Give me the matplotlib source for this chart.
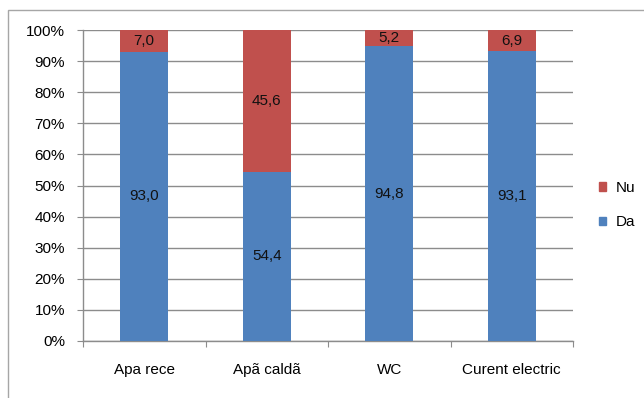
#!/usr/bin/env python
# -*- coding: utf-8 -*-

"""
100% stacked columns: share of Da / Nu answers per utility
"""

import matplotlib
matplotlib.use('Agg')
import matplotlib.pyplot as plt
from matplotlib.patches import Rectangle, Patch
import numpy as np


categories = ['Apa rece', 'Apã caldã', 'WC', 'Curent electric']
da_values = [93.0, 54.4, 94.8, 93.1]
nu_values = [7.0, 45.6, 5.2, 6.9]

BLUE = '#4F81BD'
RED = '#C0504D'
GRID = '#8C8C8C'


def main():
    plt.rcParams['font.family'] = ['Liberation Sans', 'DejaVu Sans']
    plt.rcParams['font.size'] = 11

    W, H = 644, 398
    fig = plt.figure(figsize=(W / 100, H / 100), dpi=100)
    # plot area in pixel terms: x 83..573, y 30..341
    ax = fig.add_axes([83 / W, (H - 341) / H, 490 / W, 311 / H])

    # chart frame (left and top edges show, the rest runs off the canvas)
    fig.patches.append(Rectangle((8 / W, -0.1), 2, (H - 10) / H + 0.1,
                                 transform=fig.transFigure, fill=False,
                                 edgecolor='#A6A6A6', lw=1, zorder=0))

    da = np.array(da_values)
    nu = np.array(nu_values)
    total = da + nu
    da_pct = da / total * 100
    nu_pct = nu / total * 100
    x = np.arange(len(categories))
    width = 0.39

    ax.bar(x, da_pct, width, color=BLUE, zorder=3, label='Da')
    ax.bar(x, nu_pct, width, bottom=da_pct, color=RED, zorder=3, label='Nu')

    for i in range(len(categories)):
        ax.text(x[i], da_pct[i] / 2, f'{da[i]:.1f}'.replace('.', ','),
                ha='center', va='center', fontsize=11, color='#111111', zorder=4)
        ax.text(x[i], da_pct[i] + nu_pct[i] / 2, f'{nu[i]:.1f}'.replace('.', ','),
                ha='center', va='center', fontsize=11, color='#111111', zorder=4)

    ax.set_xlim(-0.5, len(categories) - 0.5)
    ax.set_ylim(0, 100)
    ax.set_yticks(np.arange(0, 101, 10))
    ax.set_yticklabels([f'{v}%' for v in range(0, 101, 10)])
    ax.yaxis.grid(True, color=GRID, lw=1, zorder=0)

    ax.set_xticks(np.arange(-0.5, len(categories), 1.0))
    ax.set_xticklabels([])
    ax.set_xticks(x, minor=True)
    ax.set_xticklabels(categories, minor=True)
    ax.tick_params(axis='x', which='major', length=4, color=GRID, direction='out')
    ax.tick_params(axis='x', which='minor', length=0, pad=16)
    ax.tick_params(axis='y', length=4, color=GRID, direction='out', pad=9)

    for side in ('top', 'right'):
        ax.spines[side].set_visible(False)
    for side in ('left', 'bottom'):
        ax.spines[side].set_color(GRID)
        ax.spines[side].set_linewidth(1)

    handles = [Patch(color=RED, label='Nu'), Patch(color=BLUE, label='Da')]
    fig.legend(handles=handles, loc='center left',
               bbox_to_anchor=(585 / W, (H - 205) / H), frameon=False,
               handlelength=0.5, handleheight=0.5, handletextpad=0.6,
               labelspacing=1.35, fontsize=11)

    fig.savefig('out.png', dpi=100)


if __name__ == '__main__':
    main()
